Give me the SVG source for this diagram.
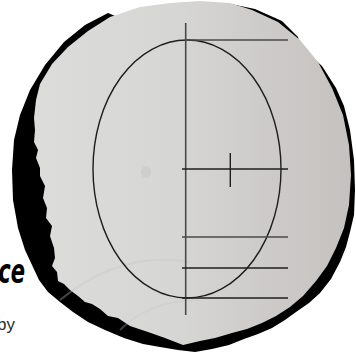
<svg xmlns="http://www.w3.org/2000/svg" width="356" height="354" viewBox="0 0 356 354">
  <defs>
    <linearGradient id="paper" x1="0" y1="0" x2="1" y2="0">
      <stop offset="0" stop-color="#dcdcdb"/>
      <stop offset="0.45" stop-color="#d6d6d4"/>
      <stop offset="1" stop-color="#c5c1bf"/>
    </linearGradient>
    <style>
      .ln { stroke: #1e1e1e; stroke-width: 1.4; fill: none; }
      .lg { stroke: #4a4a4a; stroke-width: 1.6; fill: none; }
    </style>
  </defs>
  <rect width="356" height="354" fill="#ffffff"/>
  <g id="ink">
    <path fill="#000000" d="M200,8 L222,6 L226,3 L255,9 L282,21 L298,37 L300,46 L322,66 L336,88 L344,106 L350,130 L354,160 L355,190 L354,215 L350,232 L346,247 L340,262 L331,279 L320,293 L309,303 L296,312 L285,320 L272,328 L258,334 L244,339 L229,345 L212,349 L195,352 L178,350 L160,347 L143,344 L124,338 L105,330 L88,322 L73,312 L60,302 L48,292 L39,280 L32,265 L25,250 L18,228 L13,200 L12,170 L14,140 L20,115 L30,90 L45,65 L64,42 L85,25 L108,13 L115,16 L140,14 Z"/>
  </g>
  <g id="paper-disc">
    <path fill="url(#paper)" d="M110,17 L140,7 L170,3 L200,1 L230,3 L252,10 L278,22 L300,40 L318,62 L332,88 L343,115 L349,145 L351,175 L349,205 L344,228 L336,248 L327,266 L316,281 L303,296 L290,307 L276,316 L262,323 L247,329 L232,333 L215,338 L200,341 L183,345 L165,338 L148,332 L130,326 L118,318 L108,316 L100,309 L92,304 L85,302 L78,296 L70,290 L64,284 L58,281 L57,272 L52,266 L55,258 L54,248 L50,236 L52,226 L46,218 L47,208 L43,198 L45,186 L40,176 L40,168 L36,158 L38,150 L34,142 L35,130 L34,118 L36,100 L40,84 L52,64 L68,47 L88,31 Z"/>
    <path d="M60,300 Q120,250 190,262" fill="none" stroke="#c6c6c4" stroke-width="2" opacity="0.35"/>
    <path d="M120,330 Q150,300 200,300" fill="none" stroke="#c6c6c4" stroke-width="2" opacity="0.3"/>
    <ellipse cx="146" cy="172" rx="5" ry="6" fill="#c8c8c6" opacity="0.6"/>
  </g>
  <g id="guides">
    <ellipse id="face-oval" class="ln" cx="187" cy="169" rx="94" ry="129"/>
    <line id="axis" class="lg" x1="185.7" y1="23" x2="185.7" y2="315"/>
    <line id="h-top" class="lg" x1="185" y1="40" x2="288" y2="40"/>
    <line id="h-mid" class="ln" x1="182" y1="169" x2="288" y2="169"/>
    <line id="tick" class="ln" x1="230.3" y1="153" x2="230.3" y2="187"/>
    <line id="h-3" class="lg" x1="182" y1="237" x2="288" y2="237"/>
    <line id="h-4" class="ln" x1="182" y1="268" x2="288" y2="268"/>
    <line id="h-5" class="ln" x1="182" y1="298" x2="288" y2="298"/>
  </g>
  <g id="labels">
    <text transform="translate(25,283) scale(0.62,1)" text-anchor="end" font-family="DejaVu Sans, sans-serif" font-weight="bold" font-style="italic" font-size="34" fill="#000">ce</text>
    <text x="15" y="330" text-anchor="end" font-family="Liberation Sans, sans-serif" font-size="17" fill="#2a2a2a">by</text>
  </g>
</svg>
